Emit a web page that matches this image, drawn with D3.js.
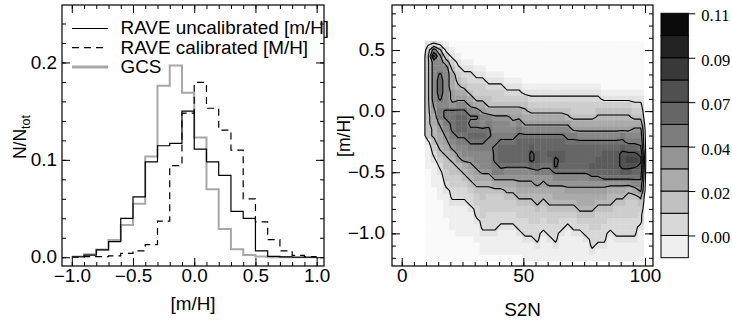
<!DOCTYPE html>
<html>
<head>
<meta charset="utf-8">
<script src="https://cdn.jsdelivr.net/npm/d3@7"></script>
<style>
  body { margin: 0; background: #fff; }
  svg { display: block; }
  text { font-family: "Liberation Sans", Arial, Helvetica, sans-serif; }
  .serif { font-family: "Liberation Serif", "Times New Roman", serif; }
</style>
</head>
<body>
<svg id="chart" width="732" height="322"></svg>
<script>
// ---------- left panel: normalised [m/H] histograms (0.1 wide bins)
const binEdges = [-1.0, -0.9, -0.8, -0.7, -0.6, -0.5, -0.4, -0.3, -0.2, -0.1, 0.0,
                  0.1, 0.2, 0.3, 0.4, 0.5, 0.6, 0.7, 0.8, 0.9, 1.0];
const raveUncal = [0.0005, 0.0022, 0.0075, 0.016, 0.040, 0.062, 0.098, 0.1145, 0.117, 0.150,
                   0.111, 0.098, 0.084, 0.047, 0.040, 0.0065, 0.0008, 0.0003, 0.0, 0.0];
const raveCal   = [0.0, 0.0007, 0.0007, 0.0014, 0.004, 0.0065, 0.013, 0.037, 0.094, 0.148,
                   0.1795, 0.153, 0.1306, 0.110, 0.060, 0.0364, 0.018, 0.0065, 0.002, 0.0007];
const gcs       = [0.0008, 0.003, 0.008, 0.0177, 0.033, 0.055, 0.1034, 0.176, 0.197, 0.169,
                   0.123, 0.0697, 0.029, 0.0082, 0.0024, 0.0007, 0.0, 0.0, 0.0, 0.0];
const seriesNames = ["RAVE uncalibrated [m/H]", "RAVE calibrated [M/H]", "GCS"];
const histXTicks = [-1.0, -0.5, 0.0, 0.5, 1.0];
const histYTicks = [0.0, 0.1, 0.2];

// ---------- right panel: density of stars in (S2N, [m/H])
// one string per S2N bin (2.5 wide, from 9.5), one char per [m/H] bin (0.05 high, from 0.575 down)
// char c -> density (parseInt(c, 36) - 2) * 0.0055
const s2nStart = 9.5, s2nStep = 2.5, mhTop = 0.575, mhStep = 0.05;
const densityCols = [
  "245555555555555521111000000000000000",
  "3afaaaaaaa98776654321111000000000000",
  "269aacdddcabb98776543211110000000000",
  "1247aaaaaaaccba987655443211110000000",
  "01245777889ccccba9765544332111100000",
  "0012345678acdddcba986544332111110000",
  "0001234578acdddcbaa97654332111110000",
  "00012334578acbcdcba98765433211110000",
  "00001234457acbcdcbaa9876544332111000",
  "000012344578aacdcbaaa976554443321110",
  "000001234557abccbbaaa976544433321110",
  "0000012344579aabbcccbb97544433321110",
  "0000012344579aabcdddcb97544433211110",
  "0000001234579aabcdddca97654433211110",
  "00000012345789abcdddca97654433211110",
  "0000001234578abcddddca98765443321110",
  "00000001245678acddddca98765443332111",
  "00000001234578acdeffda98765444332111",
  "00000001234578acddeedb99766544333211",
  "00000001234578acddddcb98765443321111",
  "00000001234578acddedcb99766544332111",
  "00000001234578acddeffca9776544333211",
  "00000001234578acddeedca9776543321111",
  "00000001234568abcddddca9876543211111",
  "000000012344578bcddddca9876543321111",
  "000000012344578acddddca9877654321111",
  "000000012344578acddddca9877654332111",
  "000000012344578acdddedb9877654433321",
  "000000012345678acddeedb9876544433211",
  "000000001245678acdeeedc9876544333211",
  "000000001245678acdeeedc9766543321111",
  "000000001245678acdeeedc9765443332111",
  "000000001245678bcefffec9765443332111",
  "000000001245678abdfgfec9654443332111",
  "000000001234579abdfgfdca754443332111",
  "000000001234579abcefedca965433211111"
];
const contourLevels = [0.003, 0.02, 0.036, 0.053, 0.069];
const s2nTicks = [0, 50, 100];
const mhTicks = [-1.0, -0.5, 0.0, 0.5];

// ---------- colour bar
const cbarLevels = [-0.011, 0.0, 0.011, 0.022, 0.033, 0.044, 0.055, 0.066, 0.077, 0.088, 0.099, 0.110];
const cbarTicks = [0.0, 0.022, 0.044, 0.066, 0.088, 0.110];

const svg = d3.select("#chart");
const FS = 17.5, SX = 1.08;   // labels in the original are a little wide
const grey = d3.scaleLinear().domain([-0.011, 0.11]).range([250, 0]).clamp(true);
const greyColor = v => { const g = Math.round(grey(v)); return `rgb(${g},${g},${g})`; };
const decode = c => (parseInt(c, 36) - 2) * 0.0055;
const wide = (sel, x, y) => sel.attr("x", null).attr("y", null)
  .attr("transform", `translate(${x},${y}) scale(${SX},1)`);

// inward ticks on all four sides; labels only bottom/left
function frameAxes(g, x, y, xMajor, yMajor, xMinorN, yMinorN, xFmt, yFmt, xPad, yPad) {
  const [xa, xb] = x.range(), [ya, yb] = y.range();
  const sides = [
    [d3.axisBottom, x, ya, true], [d3.axisTop, x, yb, false],
    [d3.axisLeft, y, xa, true], [d3.axisRight, y, xb, false]
  ];
  sides.forEach(([fn, sc, pos, labelled]) => {
    const horiz = (fn === d3.axisBottom || fn === d3.axisTop);
    const tr = horiz ? `translate(0,${pos})` : `translate(${pos},0)`;
    const minorN = horiz ? xMinorN : yMinorN;
    const major = horiz ? xMajor : yMajor;
    const minor = g.append("g").attr("transform", tr)
      .call(fn(sc).ticks(minorN).tickSize(-4).tickSizeOuter(0).tickFormat(""));
    const maj = g.append("g").attr("transform", tr)
      .call(fn(sc).tickValues(major).tickSize(-8).tickSizeOuter(0)
        .tickPadding(horiz ? xPad : yPad)
        .tickFormat(labelled ? (horiz ? xFmt : yFmt) : ""));
    [minor, maj].forEach(a => {
      a.select(".domain").remove();
      a.attr("font-family", null).attr("font-size", null);
      a.selectAll("line").attr("stroke", "#000").attr("stroke-width", 1);
    });
    maj.selectAll("text").attr("font-size", FS).attr("fill", "#000")
      .each(function () {
        const t = d3.select(this);
        wide(t, +t.attr("x") || 0, +t.attr("y") || 0);
      });
  });
  g.append("rect").attr("x", xa).attr("y", yb).attr("width", xb - xa).attr("height", ya - yb)
    .attr("fill", "none").attr("stroke", "#000").attr("stroke-width", 1.2);
}

// ================= left panel
const xL = d3.scaleLinear().domain([-1.08, 1.06]).range([62, 324]);
const yL = d3.scaleLinear().domain([-0.009, 0.259]).range([266, 5]);
const gL = svg.append("g");

const step = d3.line().x(d => xL(d[0])).y(d => yL(d[1])).curve(d3.curveStepAfter);
const pts = vals => binEdges.map((e, i) => [e, vals[Math.min(i, vals.length - 1)]]);
const styles = [
  { vals: raveUncal, stroke: "#000", width: 1.2, dash: null, lw: 1.2 },
  { vals: raveCal, stroke: "#000", width: 1.2, dash: "7,5", lw: 1.2 },
  { vals: gcs, stroke: "#a8a8a8", width: 2, dash: null, lw: 3 }
];
[2, 1, 0].forEach(k => {
  const s = styles[k];
  gL.append("path").attr("d", step(pts(s.vals))).attr("fill", "none")
    .attr("stroke", s.stroke).attr("stroke-width", s.width)
    .attr("stroke-dasharray", s.dash);
});

frameAxes(gL, xL, yL, histXTicks, histYTicks, 20, 14,
  d3.format(".1f"), d3.format(".1f"), 4, 5);

const leg = gL.append("g");
seriesNames.forEach((name, k) => {
  const yy = 28.5 + k * 19.2;
  leg.append("line").attr("x1", 72).attr("x2", 108).attr("y1", yy).attr("y2", yy)
    .attr("stroke", styles[k].stroke).attr("stroke-width", styles[k].lw)
    .attr("stroke-dasharray", styles[k].dash);
  wide(leg.append("text").attr("font-size", FS).text(name), 120.5, yy + 5.8);
});

wide(gL.append("text").attr("text-anchor", "middle").attr("font-size", FS).text("[m/H]"), 193, 310);
const yt = gL.append("text").attr("transform", "translate(26,137) rotate(-90)")
  .attr("text-anchor", "middle").attr("font-size", FS);
yt.append("tspan").text("N/N");
yt.append("tspan").attr("dy", 4).attr("font-size", 12.5).text("tot");

// ================= right panel
const xR = d3.scaleLinear().domain([-4, 103.3]).range([392, 653]);
const yR = d3.scaleLinear().domain([-1.267, 0.868]).range([266, 5]);
const gR = svg.append("g");
gR.append("clipPath").attr("id", "clipR").append("rect")
  .attr("x", 392).attr("y", 5).attr("width", 261).attr("height", 261);

const nCol = densityCols.length, nRow = densityCols[0].length;
const cells = [];
densityCols.forEach((col, j) => {
  for (let i = 0; i < nRow; i++) cells.push({ j, i, v: decode(col[i]) });
});
const cw = xR(s2nStep) - xR(0), ch = yR(0) - yR(mhStep);
gR.append("g").attr("clip-path", "url(#clipR)").selectAll("rect").data(cells).join("rect")
  .attr("x", d => xR(s2nStart + s2nStep * d.j))
  .attr("y", d => yR(mhTop - mhStep * d.i))
  .attr("width", cw + 0.4).attr("height", ch + 0.4)
  .attr("fill", d => greyColor(d.v));

// contours on the grid padded by one empty bin all round
const padW = nCol + 2, padH = nRow + 2;
const grid = new Array(padW * padH).fill(decode("0"));
cells.forEach(d => { grid[(d.i + 1) * padW + d.j + 1] = d.v; });
const iso = d3.contours().size([padW, padH]).thresholds(contourLevels)(grid);
const proj = d3.geoTransform({
  point(u, v) {
    this.stream.point(xR(s2nStart + s2nStep * (u - 1)), yR(mhTop - mhStep * (v - 1)));
  }
});
gR.append("g").attr("clip-path", "url(#clipR)").selectAll("path").data(iso).join("path")
  .attr("d", d3.geoPath(proj)).attr("fill", "none")
  .attr("stroke", "#000").attr("stroke-width", 1.1).attr("stroke-linejoin", "round");

frameAxes(gR, xR, yR, s2nTicks, mhTicks, 20, 20,
  d3.format("d"), d3.format(".1f"), 4, 7);

wide(gR.append("text").attr("text-anchor", "middle").attr("font-size", FS).text("S2N"), 522.5, 316);
gR.append("text").attr("transform", "translate(350,136) rotate(-90)")
  .attr("text-anchor", "middle").attr("font-size", FS).text("[m/H]");

// ================= colour bar
const yC = d3.scaleLinear().domain([-0.011, 0.11]).range([257.7, 13.3]);
const gC = svg.append("g");
const boxes = cbarLevels.slice(0, -1).map((lo, k) => [lo, cbarLevels[k + 1]]);
gC.selectAll("rect").data(boxes).join("rect")
  .attr("x", 661).attr("width", 27.3)
  .attr("y", d => yC(d[1])).attr("height", d => yC(d[0]) - yC(d[1]))
  .attr("fill", d => greyColor((d[0] + d[1]) / 2))
  .attr("stroke", "#000").attr("stroke-width", 1);
const cax = gC.append("g").attr("transform", "translate(688.3,0)")
  .call(d3.axisRight(yC).tickValues(cbarTicks).tickSize(7).tickSizeOuter(0)
    .tickPadding(6).tickFormat(d3.format(".2f")));
cax.select(".domain").remove();
cax.attr("font-family", null).attr("font-size", null);
cax.selectAll("line").attr("stroke", "#000");
cax.selectAll("text").attr("class", "serif").attr("font-size", 16.5).attr("fill", "#000")
  .attr("dy", "0.45em");
</script>
</body>
</html>
